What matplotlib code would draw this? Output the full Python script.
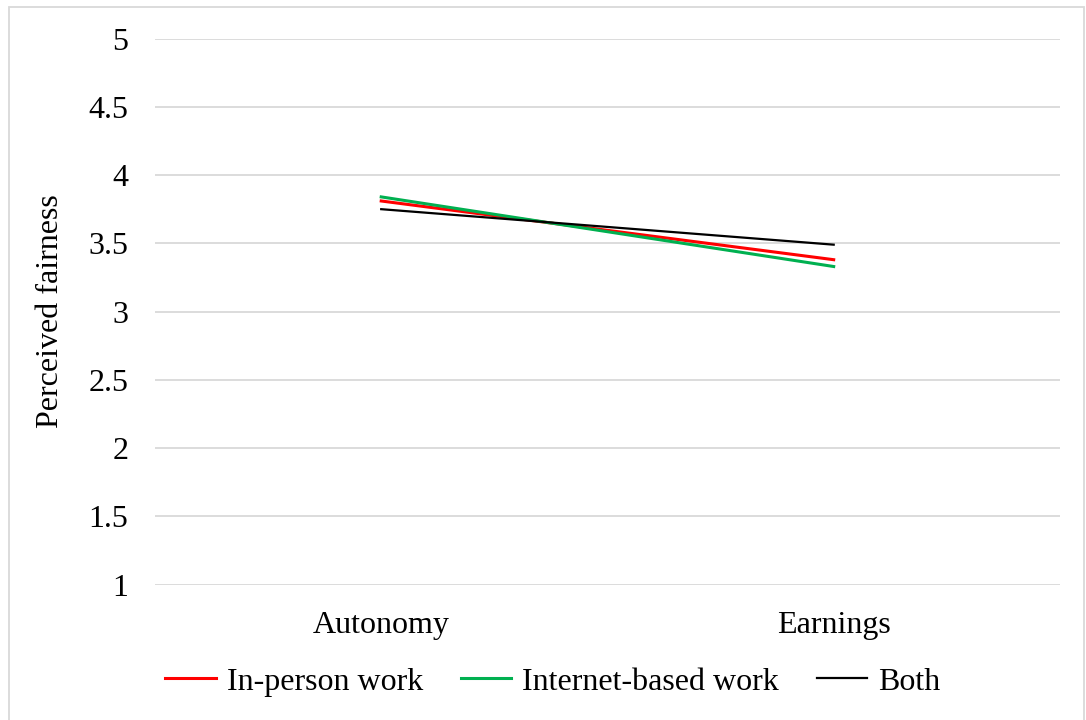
import matplotlib
matplotlib.use("Agg")
import matplotlib.pyplot as plt
from matplotlib.patches import Rectangle

plt.rcParams['font.family'] = ['Liberation Serif', 'DejaVu Serif']

# mean perceived fairness by condition
categories = ["Autonomy", "Earnings"]
in_person = [3.81, 3.38]
internet_based = [3.84, 3.33]
both = [3.75, 3.49]
yticks = [1, 1.5, 2, 2.5, 3, 3.5, 4, 4.5, 5]
ytick_labels = ["1", "1.5", "2", "2.5", "3", "3.5", "4", "4.5", "5"]

fs = 23

fig = plt.figure(figsize=(10.86, 7.2), dpi=100)
ax = fig.add_axes([0.1427, 0.188, 0.8333, 0.7585])

x = range(len(categories))
ax.plot(x, in_person, color='#FF0000', lw=2.2, label='In-person work', zorder=3)
ax.plot(x, internet_based, color='#00B050', lw=2.2, label='Internet-based work', zorder=3)
ax.plot(x, both, color='black', lw=1.6, label='Both', zorder=4)

ax.set_xlim(-0.5, len(categories) - 0.5)
ax.set_ylim(1, 5)
ax.set_xticks(list(x))
ax.set_xticklabels(categories, fontsize=fs)
ax.set_yticks(yticks)
ax.set_yticklabels(ytick_labels, fontsize=fs)
ax.tick_params(axis='x', length=0, pad=19)
ax.tick_params(axis='y', length=0, pad=19)
ax.yaxis.grid(True, color='#d9d9d9', lw=1.3)
ax.set_axisbelow(True)
for s in ax.spines.values():
    s.set_visible(False)

ax.set_ylabel('Perceived fairness', fontsize=fs, labelpad=17)

fig.legend(loc='center', bbox_to_anchor=(0.509, 0.053), ncol=3, frameon=False,
           fontsize=fs, handlelength=1.57, handletextpad=0.35, columnspacing=1.18)

# chart frame
fig.patches.append(Rectangle((9 / 1086, -0.05), 1075 / 1086, 1.05 - 7 / 720,
                             transform=fig.transFigure, fill=False,
                             edgecolor='#d9d9d9', lw=1.3))

fig.savefig('out.png', dpi=100)
